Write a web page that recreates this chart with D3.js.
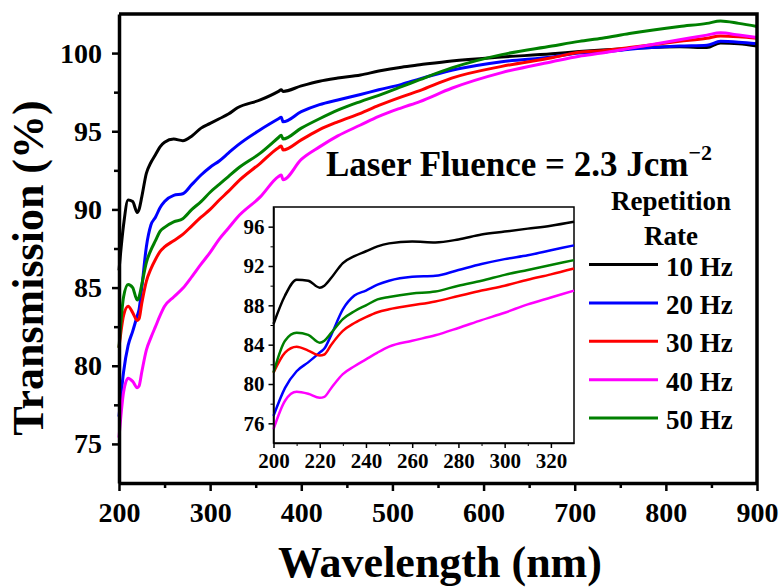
<!DOCTYPE html>
<html>
<meta charset="utf-8">
<style>
  body { margin: 0; background: #fff; }
  text { font-family: "Liberation Serif", "Times New Roman", serif; font-weight: bold; fill: #000; }
</style>
<body>
<script src="https://d3js.org/d3.v7.min.js"></script>
<script>
  // wavelength (nm) and transmission (%) for each repetition rate
  var wavelength = [200, 205, 210, 215, 220, 222, 225, 230, 235, 240, 245, 250, 260, 270, 280, 290, 300, 310, 320, 330,
                    355, 375, 378, 380, 400, 420, 440, 465, 485, 510, 530, 565, 620, 675, 705, 730, 760, 815, 845, 860, 880, 900];
  var t10 = [86.1, 89.0, 90.6, 90.5, 89.8, 90.0, 90.8, 92.3, 93.0, 93.5, 94.0, 94.3, 94.5, 94.4, 94.7, 95.2, 95.5, 95.8, 96.1, 96.5,
             97.0, 97.55, 97.65, 97.55, 97.9, 98.2, 98.4, 98.6, 98.85, 99.1, 99.25, 99.5, 99.75, 99.95, 100.1, 100.2, 100.3, 100.4, 100.35, 100.65, 100.6, 100.45];
  var t20 = [76.75, 79.6, 81.3, 82.2, 83.2, 83.6, 85.0, 87.6, 89.0, 89.5, 90.1, 90.5, 90.9, 91.0, 91.6, 92.2, 92.7, 93.1, 93.6, 94.1,
             95.1, 95.8, 95.9, 95.6, 96.25, 96.7, 97.0, 97.35, 97.65, 98.0, 98.35, 98.9, 99.45, 99.75, 100.0, 100.05, 100.25, 100.45, 100.5, 100.75, 100.7, 100.6];
  var t30 = [81.15, 83.2, 83.8, 83.4, 82.9, 83.0, 84.0, 85.4, 86.2, 86.8, 87.3, 87.6, 88.0, 88.4, 88.95, 89.5, 90.0, 90.6, 91.15, 91.75,
             92.95, 93.95, 94.05, 93.8, 94.45, 95.1, 95.6, 96.15, 96.65, 97.2, 97.6, 98.4, 99.15, 99.7, 100.05, 100.15, 100.35, 100.75, 100.95, 101.1, 101.05, 100.95];
  var t40 = [75.4, 78.3, 79.2, 79.0, 78.6, 78.7, 79.6, 81.0, 81.8, 82.5, 83.2, 83.8, 84.4, 84.95, 85.7, 86.5, 87.25, 88.1, 88.8, 89.5,
             90.8, 92.1, 92.2, 91.9, 93.2, 94.0, 94.7, 95.4, 95.95, 96.5, 96.9, 97.75, 98.75, 99.45, 99.8, 100.0, 100.3, 100.85, 101.15, 101.3, 101.15, 101.0];
  var t50 = [81.15, 84.4, 85.2, 85.0, 84.2, 84.4, 85.2, 86.6, 87.4, 88.0, 88.6, 88.85, 89.2, 89.4, 90.0, 90.5, 91.1, 91.6, 92.1, 92.6,
             93.6, 94.6, 94.75, 94.5, 95.2, 95.8, 96.35, 96.9, 97.3, 97.85, 98.3, 99.05, 99.9, 100.45, 100.75, 100.95, 101.25, 101.7, 101.9, 102.05, 101.9, 101.7];

  var labels = ["10 Hz", "20 Hz", "30 Hz", "40 Hz", "50 Hz"];
  var colors = ["#000000", "#0000ff", "#ff0000", "#ff00ff", "#008000"];
  var xTicks = [200, 300, 400, 500, 600, 700, 800, 900];
  var yTicks = [75, 80, 85, 90, 95, 100];
  var insetXTicks = [200, 220, 240, 260, 280, 300, 320];
  var insetYTicks = [76, 80, 84, 88, 92, 96];

  var series = [t10, t20, t30, t40, t50].map(function(vals, i) {
    return { label: labels[i], color: colors[i], points: wavelength.map(function(w, j) { return [w, vals[j]]; }) };
  });

  var width = 782, height = 588;
  var svg = d3.select("body").append("svg").attr("width", width).attr("height", height);

  // main plot
  var x = d3.scaleLinear().domain([200, 900]).range([119, 757]);
  var y = d3.scaleLinear().domain([72.5, 102.5]).range([483, 14]);

  var line = d3.line().curve(d3.curveMonotoneX).x(d => x(d[0])).y(d => y(d[1]));

  svg.append("g").selectAll("path")
    .data(series)
    .join("path")
      .attr("fill", "none")
      .attr("stroke", d => d.color)
      .attr("stroke-width", 3)
      .attr("d", d => line(d.points));

  // minor ticks
  svg.append("g").attr("transform", "translate(0,483)")
    .call(d3.axisBottom(x).tickValues(d3.range(250, 900, 100)).tickSize(5).tickFormat(""))
    .call(g => g.select(".domain").remove())
    .selectAll("line").attr("stroke-width", 2.5);
  svg.append("g").attr("transform", "translate(119,0)")
    .call(d3.axisLeft(y).tickValues(d3.range(77.5, 100, 5)).tickSize(5).tickFormat(""))
    .call(g => g.select(".domain").remove())
    .selectAll("line").attr("stroke-width", 2.5);

  var xAxis = svg.append("g").attr("transform", "translate(0,483)")
    .call(d3.axisBottom(x).tickValues(xTicks).tickSize(8).tickPadding(11).tickSizeOuter(0));
  xAxis.selectAll("text").style("font-size", "28px").attr("font-family", null);

  var yAxis = svg.append("g").attr("transform", "translate(119,0)")
    .call(d3.axisLeft(y).tickValues(yTicks).tickSize(7).tickPadding(10).tickSizeOuter(0));
  yAxis.selectAll("text").style("font-size", "28px").attr("font-family", null);

  [xAxis, yAxis].forEach(function(g) {
    g.select(".domain").attr("stroke-width", 3.5);
    g.selectAll(".tick line").attr("stroke-width", 2.5);
  });

  // top and right frame
  svg.append("path")
    .attr("d", "M" + x(200) + "," + y(102.5) + "H" + x(900) + "V" + y(72.5))
    .attr("fill", "none").attr("stroke", "#000").attr("stroke-width", 3.5);

  svg.append("text")
    .attr("x", 440).attr("y", 577)
    .attr("text-anchor", "middle")
    .style("font-size", "44px")
    .text("Wavelength (nm)");

  svg.append("text")
    .attr("transform", "translate(43,268) rotate(-90)")
    .attr("text-anchor", "middle")
    .style("font-size", "44px")
    .text("Transmission (%)");

  var fluence = svg.append("text")
    .attr("x", 326).attr("y", 176)
    .style("font-size", "35px")
    .text("Laser Fluence = 2.3 Jcm");
  fluence.append("tspan").attr("dy", -16).style("font-size", "22px").text("\u22122");

  // legend
  svg.append("text").attr("x", 671).attr("y", 210).attr("text-anchor", "middle")
    .style("font-size", "27px").text("Repetition");
  svg.append("text").attr("x", 671).attr("y", 245).attr("text-anchor", "middle")
    .style("font-size", "27px").text("Rate");

  var legend = svg.append("g").selectAll("g")
    .data(series)
    .join("g")
      .attr("transform", (d, i) => "translate(0," + (264.5 + i * 38.4) + ")");
  legend.append("line")
    .attr("x1", 589).attr("x2", 658)
    .attr("stroke", d => d.color).attr("stroke-width", 3);
  legend.append("text")
    .attr("x", 666).attr("y", 11)
    .style("font-size", "27px")
    .text(d => d.label);

  // inset
  var ix = d3.scaleLinear().domain([200, 330]).range([273.5, 574]);
  var iy = d3.scaleLinear().domain([74, 98]).range([443, 207]);
  var iline = d3.line().curve(d3.curveMonotoneX).x(d => ix(d[0])).y(d => iy(d[1]));

  var inset = svg.append("g");
  inset.append("rect")
    .attr("x", ix(200)).attr("y", iy(98))
    .attr("width", ix(330) - ix(200)).attr("height", iy(74) - iy(98))
    .attr("fill", "#fff").attr("stroke", "#000").attr("stroke-width", 1.5);

  inset.append("g").selectAll("path")
    .data(series)
    .join("path")
      .attr("fill", "none")
      .attr("stroke", d => d.color)
      .attr("stroke-width", 2.5)
      .attr("d", d => iline(d.points.filter(p => p[0] <= 330)));

  inset.append("g").attr("transform", "translate(0," + iy(74) + ")")
    .call(d3.axisBottom(ix).tickValues(d3.range(210, 330, 20)).tickSize(3).tickFormat(""))
    .call(g => g.select(".domain").remove());
  inset.append("g").attr("transform", "translate(" + ix(200) + ",0)")
    .call(d3.axisLeft(iy).tickValues(d3.range(78, 98, 4)).tickSize(3).tickFormat(""))
    .call(g => g.select(".domain").remove());

  var ixAxis = inset.append("g").attr("transform", "translate(0," + iy(74) + ")")
    .call(d3.axisBottom(ix).tickValues(insetXTicks).tickSize(5).tickPadding(5).tickSizeOuter(0));
  ixAxis.selectAll("text").style("font-size", "21px").attr("font-family", null);
  var iyAxis = inset.append("g").attr("transform", "translate(" + ix(200) + ",0)")
    .call(d3.axisLeft(iy).tickValues(insetYTicks).tickSize(5).tickPadding(4).tickSizeOuter(0));
  iyAxis.selectAll("text").style("font-size", "21px").attr("font-family", null);
  [ixAxis, iyAxis].forEach(function(g) {
    g.select(".domain").attr("stroke-width", 1.5);
    g.selectAll(".tick line").attr("stroke-width", 1.5);
  });
</script>
</body>
</html>
